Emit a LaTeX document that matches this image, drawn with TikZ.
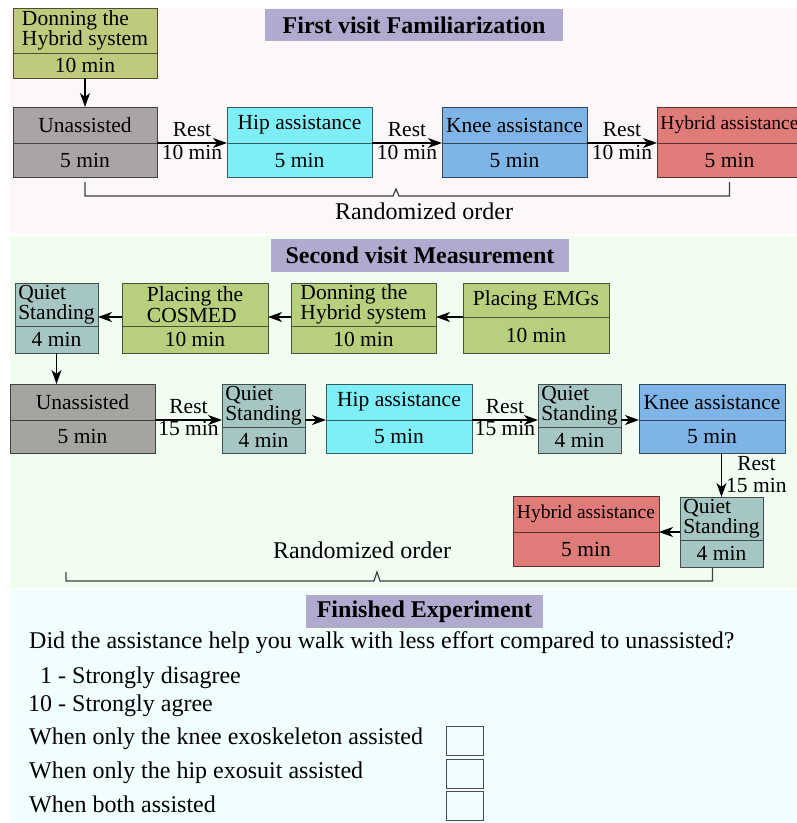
\documentclass[tikz,border=0pt]{standalone}
\usepackage{fontspec}
\setmainfont{Liberation Serif}
\usetikzlibrary{arrows.meta}

\definecolor{fondrose}{RGB}{253,247,247}
\definecolor{fondvert}{RGB}{242,253,241}
\definecolor{fondcyan}{RGB}{240,254,254}
\definecolor{lavande}{RGB}{176,170,206}
\definecolor{vertolive}{RGB}{191,202,124}
\definecolor{vertprep}{RGB}{184,207,126}
\definecolor{grisA}{RGB}{169,165,164}
\definecolor{grisB}{RGB}{163,166,159}
\definecolor{attente}{RGB}{166,198,196}
\definecolor{hanche}{RGB}{126,238,247}
\definecolor{genou}{RGB}{127,180,230}
\definecolor{hybride}{RGB}{223,123,120}

% etape : nom, x, y, largeur, haut, bas, couleur, texte haut, texte bas
\newcommand{\etape}[9]{%
  \node[boite=#7, minimum width=#4pt, minimum height=#5pt] (#1-h) at (#2,#3) {#8};
  \node[boite=#7, minimum width=#4pt, minimum height=#6pt] (#1-b) at (#1-h.south west) {#9};
}
\newcommand{\petit}{\fontsize{19.5}{19.5}\selectfont}

\begin{document}
\begin{tikzpicture}[x=1pt, y=-1pt,
  >={Stealth[length=14pt,width=10pt,inset=4pt]},
  boite/.style={draw=#1!40!black, fill=#1, line width=1pt, outer sep=0pt,
    inner sep=1pt, anchor=north west, align=left,
    font=\fontsize{21.5}{20.5}\selectfont},
  titre/.style={fill=lavande, inner sep=0pt, font=\bfseries\fontsize{24}{24}\selectfont},
  fleche/.style={->, line width=1.4pt},
  repos/.style={font=\fontsize{21.5}{22}\selectfont, inner sep=1pt, align=center},
  crochet/.style={line width=1.2pt, black!75},
  texte/.style={anchor=base west, inner sep=0pt, font=\fontsize{24}{24}\selectfont},
  case/.style={draw=black!70, line width=1pt, anchor=north west, inner sep=0pt,
    minimum width=37pt, minimum height=29pt}]
  \useasboundingbox (0,0) rectangle (797,823);

  % Fonds
  \fill[fondrose] (10,8) rectangle (797,234);
  \fill[fondvert] (10,236) rectangle (797,588);
  \fill[fondcyan] (10,590) rectangle (797,823);

  % Premiere visite
  \node[titre, minimum width=298pt, minimum height=32pt] (titre1) at (414,25) {First visit Familiarization};
  \etape{don1}{13}{8}{144}{45}{25}{vertolive}{Donning the\\Hybrid system}{10 min}
  \etape{unas1}{13}{107}{144}{36}{34}{grisA}{Unassisted}{5 min}
  \etape{hip1}{227}{107}{145}{36}{34}{hanche}{Hip assistance}{5 min}
  \etape{knee1}{442}{107}{145}{36}{34}{genou}{Knee assistance}{5 min}
  \etape{hyb1}{657}{107}{145}{36}{34}{hybride}{\petit Hybrid assistance}{5 min}

  \draw[fleche] (don1-b.south) -- (unas1-h.north);
  \draw[fleche] (unas1-h.south east) -- (hip1-h.south west)
    node[repos, midway, above=5pt] {Rest} node[repos, midway, below] {10 min};
  \draw[fleche] (hip1-h.south east) -- (knee1-h.south west)
    node[repos, midway, above=5pt] {Rest} node[repos, midway, below] {10 min};
  \draw[fleche] (knee1-h.south east) -- (hyb1-h.south west)
    node[repos, midway, above=5pt] {Rest} node[repos, midway, below] {10 min};

  % Ordre aleatoire
  \draw[crochet] ([yshift=-5pt]unas1-b.south) -- (unas1-b.south |- 0,196) -- (393,196)
    -- (396,189) -- (399,196) -- (hyb1-b.south |- 0,196) -- ([yshift=-5pt]hyb1-b.south);
  \node[texte, anchor=base] (ordre1) at (424,219) {Randomized order};

  % Deuxieme visite
  \node[titre, minimum width=298pt, minimum height=33pt] (titre2) at (420,255.5) {Second visit Measurement};
  \etape{qs1}{15}{283}{83}{43}{27}{attente}{Quiet\\Standing}{4 min}
  \etape{cosmed}{122}{283}{146}{43}{27}{vertprep}{Placing the\\COSMED}{10 min}
  \etape{don2}{291}{283}{145}{43}{27}{vertprep}{Donning the\\Hybrid system}{10 min}
  \etape{emg}{463}{283}{146}{34}{36}{vertprep}{Placing EMGs}{10 min}

  \draw[fleche] (emg-h.south west) -- (emg-h.south west -| don2-h.east);
  \draw[fleche] (don2-h.west |- emg-h.south) -- (cosmed-h.east |- emg-h.south);
  \draw[fleche] (cosmed-h.west |- emg-h.south) -- (qs1-h.east |- emg-h.south);

  \etape{unas2}{10}{384}{145}{36}{33}{grisB}{Unassisted}{5 min}
  \etape{qs2}{222}{384}{83}{43}{26}{attente}{Quiet\\Standing}{4 min}
  \etape{hip2}{326}{384}{146}{36}{33}{hanche}{Hip assistance}{5 min}
  \etape{qs3}{538}{384}{83}{43}{26}{attente}{Quiet\\Standing}{4 min}
  \etape{knee2}{639}{384}{146}{36}{33}{genou}{Knee assistance}{5 min}
  \etape{qs4}{680}{497}{83}{43}{27}{attente}{Quiet\\Standing}{4 min}
  \etape{hyb2}{513}{496}{146}{36}{34}{hybride}{\petit Hybrid assistance}{5 min}

  \draw[fleche] (qs1-b.south) -- (qs1-b.south |- unas2-h.north);
  \draw[fleche] (unas2-h.south east) -- (qs2-h.west |- unas2-h.south)
    node[repos, midway, above=5pt] {Rest} node[repos, midway, below] {15 min};
  \draw[fleche] (qs2-h.east |- unas2-h.south) -- (hip2-h.south west);
  \draw[fleche] (hip2-h.south east) -- (qs3-h.west |- hip2-h.south)
    node[repos, midway, above=5pt] {Rest} node[repos, midway, below] {15 min};
  \draw[fleche] (qs3-h.east |- hip2-h.south) -- (knee2-h.south west);
  \draw[fleche] (qs4-h.north |- knee2-b.south) -- (qs4-h.north)
    node[repos, midway, right=3pt] {Rest\\15 min};
  \draw[fleche] (qs4-h.west |- hyb2-h.south) -- (hyb2-h.south east);

  % Ordre aleatoire
  \draw[crochet] (66,572) -- (66,581) -- (374,581) -- (377,572) -- (380,581)
    -- ([xshift=-9pt]qs4-b.south |- 0,581) -- ([xshift=-9pt]qs4-b.south);
  \node[texte, anchor=base] (ordre2) at (362,558) {Randomized order};

  % Questionnaire
  \node[titre, minimum width=237pt, minimum height=33pt] (titre3) at (424.5,611.5) {Finished Experiment};
  \node[texte] (question) at (29,648) {Did the assistance help you walk with less effort compared to unassisted?};
  \node[texte] (min) at (40,683) {1 - Strongly disagree};
  \node[texte] (max) at (28,711) {10 - Strongly agree};
  \node[texte] (genou) at (29,744) {When only the knee exoskeleton assisted};
  \node[texte] (hanche) at (29,778) {When only the hip exosuit assisted};
  \node[texte] (deux) at (29,812) {When both assisted};
  \node[case] (case1) at (446,726) {};
  \node[case] (case2) at (446,759) {};
  \node[case] (case3) at (446,791) {};
\end{tikzpicture}
\end{document}
